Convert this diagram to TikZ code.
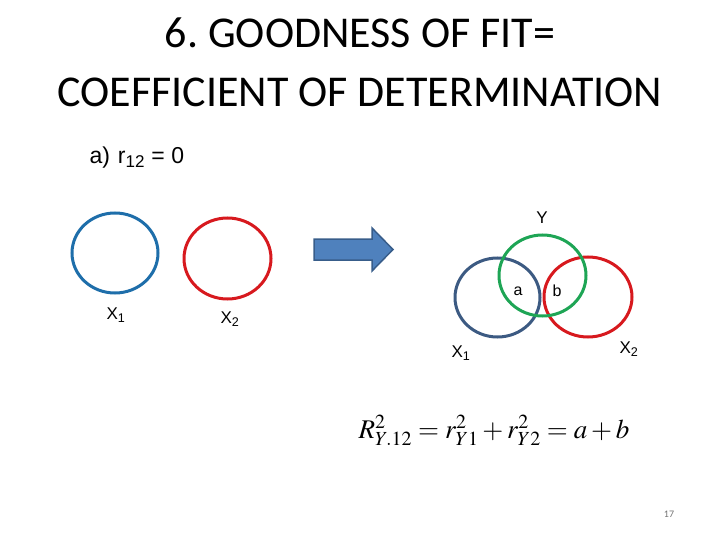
\documentclass[tikz,border=0pt]{standalone}
\usepackage{mathptmx}
\usepackage{fontspec}
\setmainfont{Carlito}
\newfontfamily\arialfont{Liberation Sans}
\definecolor{figB}{RGB}{30,110,170}
\definecolor{figS}{RGB}{60,90,130}
\definecolor{figR}{RGB}{215,25,30}
\definecolor{figG}{RGB}{30,165,85}
\definecolor{figA}{RGB}{79,129,189}
\definecolor{figAd}{RGB}{56,93,138}

\begin{document}
\begin{tikzpicture}[x=1pt,y=-1pt,
  ring/.style={line width=3pt},
  lbl/.style={font=\arialfont\fontsize{17}{19}\selectfont,inner sep=1pt},
  part/.style={font=\arialfont\fontsize{16}{18}\selectfont,inner sep=1pt}]
\useasboundingbox (0,0) rectangle (720,540);
% title
\node[font=\fontsize{44}{50}\selectfont,anchor=base] (title1) at (360,48) {6.\ GOODNESS OF FIT=};
\node[font=\fontsize{44}{50}\selectfont,anchor=base] (title2) at (360,107) {COEFFICIENT OF DETERMINATION};
\node[font=\arialfont\fontsize{23}{26}\selectfont,anchor=west] (case) at (86,158) {a)\hspace{8pt}r\textsubscript{12} = 0};
% separate circles
\draw[ring,figB] (115,253) ellipse (43 and 40);
\draw[ring,figR] (227.5,258.5) ellipse (43.5 and 40.5);
\node[lbl] (lx1) at (116,315) {X\textsubscript{1}};
\node[lbl] (lx2) at (230,319) {X\textsubscript{2}};
% arrow
\draw[draw=figAd,fill=figA,line width=1.5pt,line join=miter]
  (314,239) -- (372,239) -- (372,228) -- (393,249.5) -- (372,271) -- (372,260) -- (314,260) -- cycle;
% overlapping circles
\draw[ring,figS] (497.5,297.5) ellipse (42.5 and 39.5);
\draw[ring,figR] (588,297) ellipse (44 and 40);
\draw[ring,figG] (542.5,275.5) ellipse (43.5 and 40.5);
\node[lbl] (ly) at (542,218) {Y};
\node[part] (pa) at (518,291) {a};
\node[part] (pb) at (557,291) {b};
\node[lbl] (ly1) at (461,353) {X\textsubscript{1}};
\node[lbl] (ly2) at (629,349) {X\textsubscript{2}};
% formula
\node[font=\fontsize{27}{30}\selectfont,anchor=base] (eq) at (494,438) {$R^2_{Y.12}=r^2_{Y1}+r^2_{Y2}=a+b$};
\node[font=\fontsize{10}{12}\selectfont,black!55] (page) at (669,514) {17};
\end{tikzpicture}
\end{document}
